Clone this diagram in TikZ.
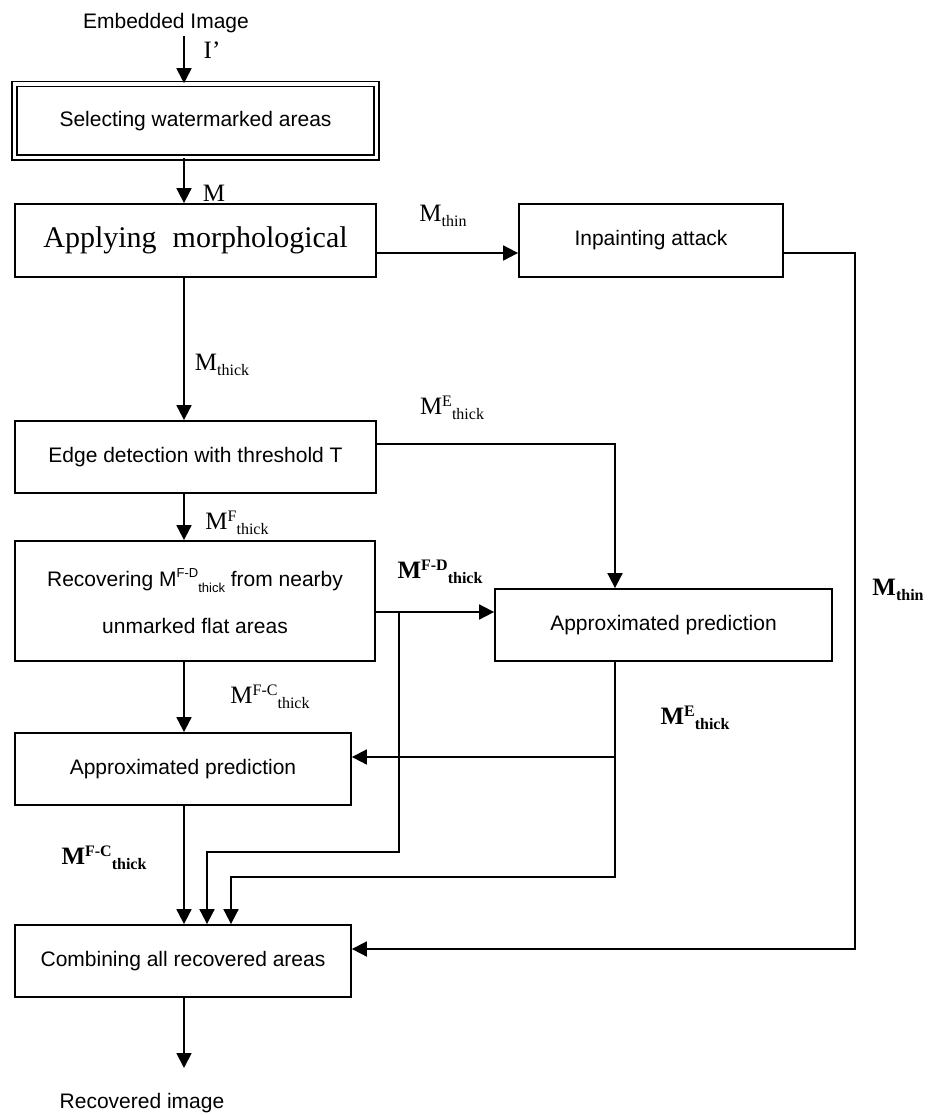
\documentclass[tikz,border=0pt]{standalone}
\usepackage{fontspec}
\setmainfont{Liberation Serif}
\newfontfamily\sfarial{Liberation Sans}
\usetikzlibrary{arrows.meta}
\newcommand\supt[1]{\raisebox{0.42em}{\fontsize{13}{13}\selectfont #1}}
\newcommand\subt[1]{\raisebox{-0.28em}{\fontsize{13}{13}\selectfont #1}}
\newcommand\Mlab[2]{M\raisebox{8pt}{\fontsize{16}{16}\selectfont #1}\raisebox{-5pt}{\fontsize{16}{16}\selectfont #2}}
\begin{document}
\begin{tikzpicture}[x=1pt,y=-1pt,
  line width=1.8pt,
  box/.style={draw, line width=1.8pt, inner sep=0pt, align=center,
    font=\sfarial\fontsize{21}{24}\selectfont},
  arr/.style={-{Triangle[length=15pt,width=15pt]}},
  lab/.style={font=\fontsize{25}{28}\selectfont, inner sep=0pt},
  blab/.style={font=\bfseries\fontsize{25}{28}\selectfont, inner sep=0pt},
  plain/.style={font=\sfarial\fontsize{21}{24}\selectfont, inner sep=0pt}]
\useasboundingbox (0,0) rectangle (936,1115);

% helper coordinates
\coordinate (spine) at (184,0);
\coordinate (xr) at (615,0);
\coordinate (xR) at (855,0);
\coordinate (xb) at (399,0);
\coordinate (j1) at (207,852);
\coordinate (j2) at (231,877);
\coordinate (top) at (184,36);
\coordinate (out) at (184,1068);

% boxes
\node[box, line width=1.6pt, minimum width=362, minimum height=73.5, double, double distance=3.4pt] (sel) at (195.5,120.75) {Selecting watermarked areas};
\node[box, minimum width=361, minimum height=73, font=\fontsize{30}{34}\selectfont] (app) at (195.5,240.5) {Applying\hspace{16pt}morphological};
\node[box, minimum width=264, minimum height=73] (inp) at (651,240.5) {Inpainting attack};
\node[box, minimum width=361, minimum height=72] (edge) at (195.5,457) {Edge detection with threshold T};
\node[box, minimum width=360, minimum height=120] (rec) at (195,601) {Recovering M\supt{F-D}\subt{thick} from nearby\\[23pt]unmarked flat areas};
\node[box, minimum width=337, minimum height=72] (rap) at (663.5,625) {Approximated prediction};
\node[box, minimum width=336, minimum height=72] (lap) at (183,769) {Approximated prediction};
\node[box, minimum width=336, minimum height=72] (comb) at (183,961) {Combining all recovered areas};

% free texts
\node[plain] (emb) at (166,23) {Embedded Image};
\node[plain] (rimg) at (142,1103) {Recovered image};

% labels
\node[lab] (lI) at (212,50) {I’};
\node[lab] (lM) at (214,193) {M};
\node[lab] (lthin) at (443,216) {\Mlab{}{thin}};
\node[lab] (lthick) at (222,365) {\Mlab{}{thick}};
\node[lab] (lE) at (452,408) {\Mlab{E}{thick}};
\node[lab] (lF) at (237,523) {\Mlab{F}{thick}};
\node[blab] (lFD) at (440,572) {\Mlab{F-D}{thick}};
\node[lab] (lFC) at (270,697) {\Mlab{F-C}{thick}};
\node[blab] (lEb) at (695,718) {\Mlab{E}{thick}};
\node[blab] (lFCb) at (104,858) {\Mlab{F-C}{thick}};
\node[blab] (lthinb) at (898,590) {\Mlab{}{thin}};

% connectors
\draw[arr] (top) -- (sel.north -| spine);
\draw[arr] (sel.south -| spine) -- (app.north -| spine);
\draw[arr] ([yshift=-12.5pt]app.east) coordinate (a1) -- (a1 -| inp.west);
\draw[arr] (app.south -| spine) -- (edge.north -| spine);
\draw[arr] ([yshift=13pt]edge.east) -| (rap.north -| xr);
\draw[arr] (edge.south -| spine) -- (rec.north -| spine);
\draw[arr] ([yshift=-11pt]rec.east) coordinate (r1) -- (r1 -| rap.west);
\draw[arr] (r1 -| xb) |- (j1) -- (j1 |- comb.north);
\draw[arr] (rec.south -| spine) -- (lap.north -| spine);
\draw[arr] (rap.south -| xr) |- (j2) -- (j2 |- comb.north);
\draw[arr] ([yshift=12pt]lap.east) coordinate (l1) (l1 -| xr) -- (l1);
\draw[arr] (lap.south -| spine) -- (comb.north -| spine);
\draw[arr] ([yshift=-12.5pt]inp.east) -| ([yshift=12pt]comb.east -| xR) -- ([yshift=12pt]comb.east);
\draw[arr] (comb.south -| spine) -- (out);
\end{tikzpicture}
\end{document}
